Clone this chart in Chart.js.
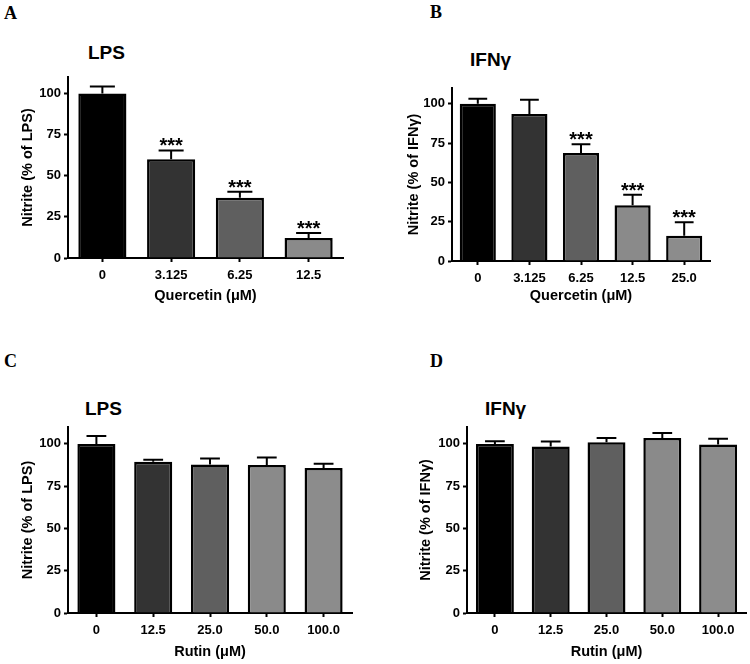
<!DOCTYPE html>
<html>
<head>
<meta charset="utf-8">
<script src="https://cdn.jsdelivr.net/npm/chart.js@4"></script>
<style>
  body { margin: 0; background: #fff; }
  #wrap { position: relative; width: 750px; height: 664px; overflow: hidden; background: #fff; }
  canvas { position: absolute; }
  .letter { position: absolute; font: bold 18px "Liberation Serif", "Times New Roman", serif; line-height: 18px; color: #000; }
  .title { position: absolute; font: bold 19px "Liberation Sans", Arial, sans-serif; line-height: 19px; color: #000; white-space: nowrap; }
</style>
</head>
<body>
<div id="wrap">
  <div class="letter" style="left:4px;top:4px">A</div>
  <div class="letter" style="left:430px;top:3px">B</div>
  <div class="letter" style="left:4px;top:352px">C</div>
  <div class="letter" style="left:430px;top:352px">D</div>
  <div class="title" style="left:88px;top:43px">LPS</div>
  <div class="title" style="left:470px;top:50px">IFNγ</div>
  <div class="title" style="left:85px;top:399px">LPS</div>
  <div class="title" style="left:485px;top:399px">IFNγ</div>
  <canvas id="chartA" width="375" height="260" style="left:0;top:60px"></canvas>
  <canvas id="chartB" width="375" height="260" style="left:375px;top:60px"></canvas>
  <canvas id="chartC" width="375" height="264" style="left:0;top:400px"></canvas>
  <canvas id="chartD" width="375" height="264" style="left:375px;top:400px"></canvas>
</div>
<script>
// A: quercetin on LPS-stimulated cells
const quercetinLpsLabels = ['0', '3.125', '6.25', '12.5'];
const quercetinLpsMeans = [100, 60, 36.6, 12.2];
const quercetinLpsSem = [4.3, 5.4, 3.6, 3.0];
const quercetinLpsStars = ['', '***', '***', '***'];

// B: quercetin on IFNγ-stimulated cells
const quercetinIfnLabels = ['0', '3.125', '6.25', '12.5', '25.0'];
const quercetinIfnMeans = [100, 93.4, 68.6, 35.5, 16.1];
const quercetinIfnSem = [3.2, 9.1, 5.7, 6.7, 8.5];
const quercetinIfnStars = ['', '', '***', '***', '***'];

// C: rutin on LPS
const rutinLpsLabels = ['0', '12.5', '25.0', '50.0', '100.0'];
const rutinLpsMeans = [100, 89.4, 87.8, 87.6, 85.7];
const rutinLpsSem = [4.7, 1.2, 3.6, 4.3, 2.5];

// D: rutin on IFNγ
const rutinIfnLabels = ['0', '12.5', '25.0', '50.0', '100.0'];
const rutinIfnMeans = [100, 98.4, 101, 103.5, 99.6];
const rutinIfnSem = [1.6, 3.0, 2.5, 3.0, 3.5];

const yMax = 110;
const yStep = 25;

const barGrays = ['#000000', '#333333', '#5f5f5f', '#8a8a8a', '#8c8c8c'];
const fontFamily = '"Liberation Sans", Arial, sans-serif';
const axisTitleSize = 14.5;
const halfTitleLine = axisTitleSize * 1.2 / 2;

// draws sem whiskers and significance stars on top of the bars
const errorBarPlugin = {
    id: 'errorBars',
    afterDatasetsDraw(chart, args, opts) {
        const ctx = chart.ctx;
        const y = chart.scales.y;
        const meta = chart.getDatasetMeta(0);
        const values = chart.data.datasets[0].data;
        ctx.save();
        ctx.strokeStyle = '#000';
        ctx.fillStyle = '#000';
        ctx.lineWidth = 2;
        meta.data.forEach((bar, i) => {
            const base = y.getPixelForValue(values[i]);
            const top = y.getPixelForValue(values[i] + opts.sem[i]);
            const half = bar.width * 0.26;
            ctx.beginPath();
            ctx.moveTo(bar.x, base);
            ctx.lineTo(bar.x, top);
            ctx.moveTo(bar.x - half, top);
            ctx.lineTo(bar.x + half, top);
            ctx.stroke();
            if (opts.stars && opts.stars[i]) {
                ctx.font = 'bold 20px ' + fontFamily;
                ctx.textAlign = 'center';
                ctx.textBaseline = 'alphabetic';
                ctx.fillText(opts.stars[i], bar.x, top + 2);
            }
        });
        ctx.restore();
    }
};

function makePanel(id, box, labels, means, sem, stars, xTitle, yTitle, barPct) {
    const canvas = document.getElementById(id);
    const yTitleLeft = box.yTitleX - halfTitleLine;
    const xScaleBottom = box.xTitleY + halfTitleLine;
    const yWidth = box.l - yTitleLeft;
    const xHeight = xScaleBottom - box.b;

    return new Chart(canvas, {
        type: 'bar',
        data: {
            labels: labels,
            datasets: [{
                data: means,
                backgroundColor: barGrays.slice(0, labels.length),
                borderColor: '#000',
                borderWidth: 2.5,
                barPercentage: barPct,
                categoryPercentage: 1
            }]
        },
        options: {
            responsive: false,
            animation: false,
            devicePixelRatio: 1,
            layout: {
                padding: {
                    left: yTitleLeft - box.cx,
                    top: box.t - box.cy,
                    right: box.cx + canvas.width - box.r,
                    bottom: box.cy + canvas.height - xScaleBottom
                }
            },
            plugins: {
                legend: { display: false },
                tooltip: { enabled: false },
                errorBars: { sem: sem, stars: stars }
            },
            scales: {
                x: {
                    grid: { drawOnChartArea: false, offset: false, tickLength: 4, tickWidth: 2, tickColor: '#000' },
                    border: { display: true, color: '#000', width: 2 },
                    ticks: { color: '#000', font: { family: fontFamily, size: 13, weight: 'bold' }, padding: 6, maxRotation: 0, autoSkip: false },
                    title: { display: true, text: xTitle, color: '#000', padding: 0, font: { family: fontFamily, size: axisTitleSize, weight: 'bold' } },
                    afterFit: (s) => { s.height = xHeight; }
                },
                y: {
                    min: 0,
                    max: yMax,
                    grid: { drawOnChartArea: false, tickLength: 4, tickWidth: 2, tickColor: '#000' },
                    border: { display: true, color: '#000', width: 2 },
                    ticks: { stepSize: yStep, includeBounds: false, color: '#000', padding: 3, font: { family: fontFamily, size: 13, weight: 'bold' } },
                    title: { display: true, text: yTitle, color: '#000', padding: 0, font: { family: fontFamily, size: axisTitleSize, weight: 'bold' } },
                    afterFit: (s) => { s.width = yWidth; }
                }
            }
        },
        plugins: [errorBarPlugin]
    });
}

makePanel('chartA', { cx: 0, cy: 60, l: 68, t: 77, r: 343, b: 258, yTitleX: 28, xTitleY: 296 },
    quercetinLpsLabels, quercetinLpsMeans, quercetinLpsSem, quercetinLpsStars,
    'Quercetin (μM)', 'Nitrite (% of LPS)', 0.7);

makePanel('chartB', { cx: 375, cy: 60, l: 452, t: 88, r: 710, b: 261, yTitleX: 414, xTitleY: 296 },
    quercetinIfnLabels, quercetinIfnMeans, quercetinIfnSem, quercetinIfnStars,
    'Quercetin (μM)', 'Nitrite (% of IFNγ)', 0.7);

makePanel('chartC', { cx: 0, cy: 400, l: 68, t: 427, r: 352, b: 613, yTitleX: 28, xTitleY: 652 },
    rutinLpsLabels, rutinLpsMeans, rutinLpsSem, null,
    'Rutin (μM)', 'Nitrite (% of LPS)', 0.67);

makePanel('chartD', { cx: 375, cy: 400, l: 467, t: 427, r: 746, b: 613, yTitleX: 426, xTitleY: 652 },
    rutinIfnLabels, rutinIfnMeans, rutinIfnSem, null,
    'Rutin (μM)', 'Nitrite (% of IFNγ)', 0.68);
</script>
</body>
</html>
